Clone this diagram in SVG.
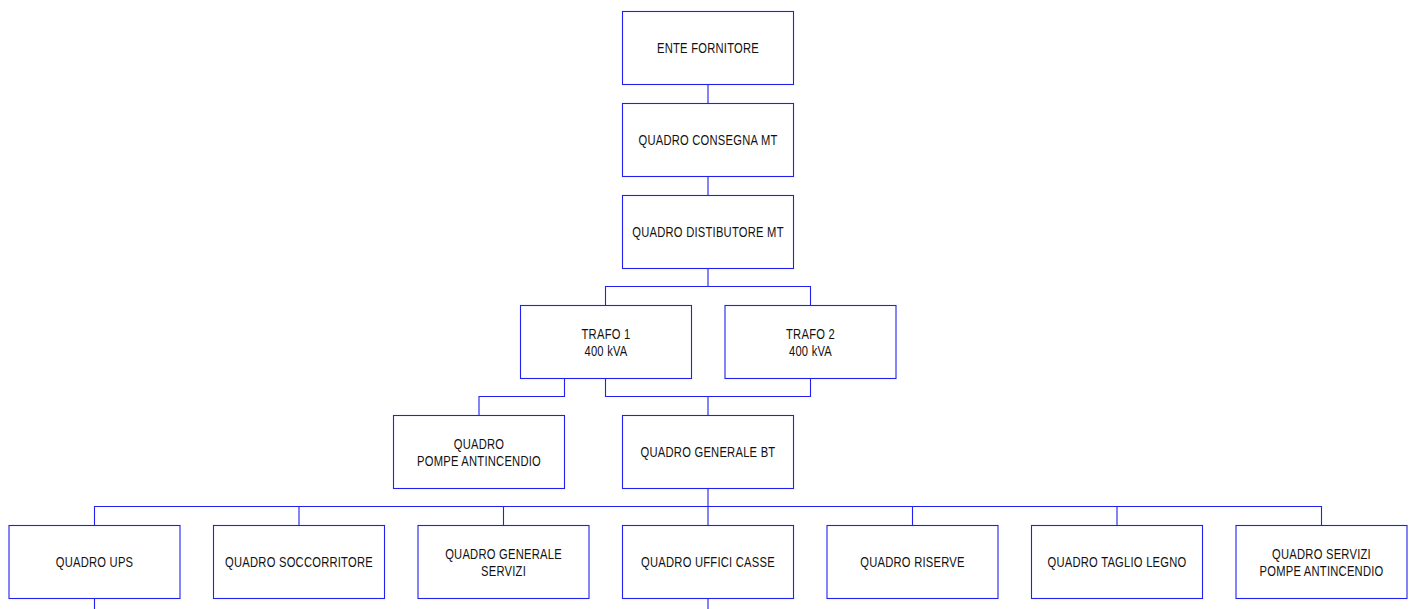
<svg xmlns="http://www.w3.org/2000/svg" width="1410" height="609" viewBox="0 0 1410 609">
<style>
.box{fill:#fff;stroke:#2020f0;stroke-width:1.1}
.wire{fill:none;stroke:#2020f0;stroke-width:1.1}
text{font-family:"Liberation Sans",Arial,sans-serif;font-size:14px;fill:#111;text-anchor:middle;letter-spacing:0.3px}
</style>
<rect width="1410" height="609" fill="#fff"/>
<g id="connectors">
<path class="wire" d="M708 84.5V103.5M708 176.5V195M708 268.5V286.5M605.5 305V286.5H810.5V305M564.5 378.5V396.5H479V415M605.5 378.5V396.5H810.5V378.5M708 396.5V415M708 488.5V506.5M94.5 525V506.5H1321.5V525M299 506.5V525M503.5 506.5V525M912.5 506.5V525M1117 506.5V525M708 506.5V525M94.5 598.5V609M708 598.5V609"/>
</g>
<g id="ente-fornitore"><rect class="box" x="622.5" y="11.5" width="171" height="73"/><text transform="translate(708 53.3) scale(0.8 1)">ENTE FORNITORE</text></g>
<g id="quadro-consegna-mt"><rect class="box" x="622.5" y="103.5" width="171" height="73"/><text transform="translate(708 145.3) scale(0.8 1)">QUADRO CONSEGNA MT</text></g>
<g id="quadro-distibutore-mt"><rect class="box" x="622.5" y="195.5" width="171" height="73"/><text transform="translate(708 236.8) scale(0.8 1)">QUADRO DISTIBUTORE MT</text></g>
<g id="trafo-1"><rect class="box" x="520.5" y="305.5" width="171" height="73"/><text transform="translate(606 339.3) scale(0.8 1)">TRAFO 1</text><text transform="translate(606 356) scale(0.8 1)">400 kVA</text></g>
<g id="trafo-2"><rect class="box" x="725" y="305.5" width="171" height="73"/><text transform="translate(810.5 339.3) scale(0.8 1)">TRAFO 2</text><text transform="translate(810.5 356) scale(0.8 1)">400 kVA</text></g>
<g id="quadro-pompe-antincendio"><rect class="box" x="393.5" y="415.5" width="171" height="73"/><text transform="translate(479 449.3) scale(0.8 1)">QUADRO</text><text transform="translate(479 466) scale(0.8 1)">POMPE ANTINCENDIO</text></g>
<g id="quadro-generale-bt"><rect class="box" x="622.5" y="415.5" width="171" height="73"/><text transform="translate(708 456.8) scale(0.8 1)">QUADRO GENERALE BT</text></g>
<g id="quadro-ups"><rect class="box" x="9" y="525.5" width="171" height="73"/><text transform="translate(94.5 566.8) scale(0.8 1)">QUADRO UPS</text></g>
<g id="quadro-soccorritore"><rect class="box" x="213.5" y="525.5" width="171" height="73"/><text transform="translate(299 566.8) scale(0.8 1)">QUADRO SOCCORRITORE</text></g>
<g id="quadro-generale-servizi"><rect class="box" x="418" y="525.5" width="171" height="73"/><text transform="translate(503.5 559.3) scale(0.8 1)">QUADRO GENERALE</text><text transform="translate(503.5 576) scale(0.8 1)">SERVIZI</text></g>
<g id="quadro-uffici-casse"><rect class="box" x="622.5" y="525.5" width="171" height="73"/><text transform="translate(708 566.8) scale(0.8 1)">QUADRO UFFICI CASSE</text></g>
<g id="quadro-riserve"><rect class="box" x="827" y="525.5" width="171" height="73"/><text transform="translate(912.5 566.8) scale(0.8 1)">QUADRO RISERVE</text></g>
<g id="quadro-taglio-legno"><rect class="box" x="1031.5" y="525.5" width="171" height="73"/><text transform="translate(1117 566.8) scale(0.8 1)">QUADRO TAGLIO LEGNO</text></g>
<g id="quadro-servizi-pompe-antincendio"><rect class="box" x="1236" y="525.5" width="171" height="73"/><text transform="translate(1321.5 559.3) scale(0.8 1)">QUADRO SERVIZI</text><text transform="translate(1321.5 576) scale(0.8 1)">POMPE ANTINCENDIO</text></g>
</svg>
